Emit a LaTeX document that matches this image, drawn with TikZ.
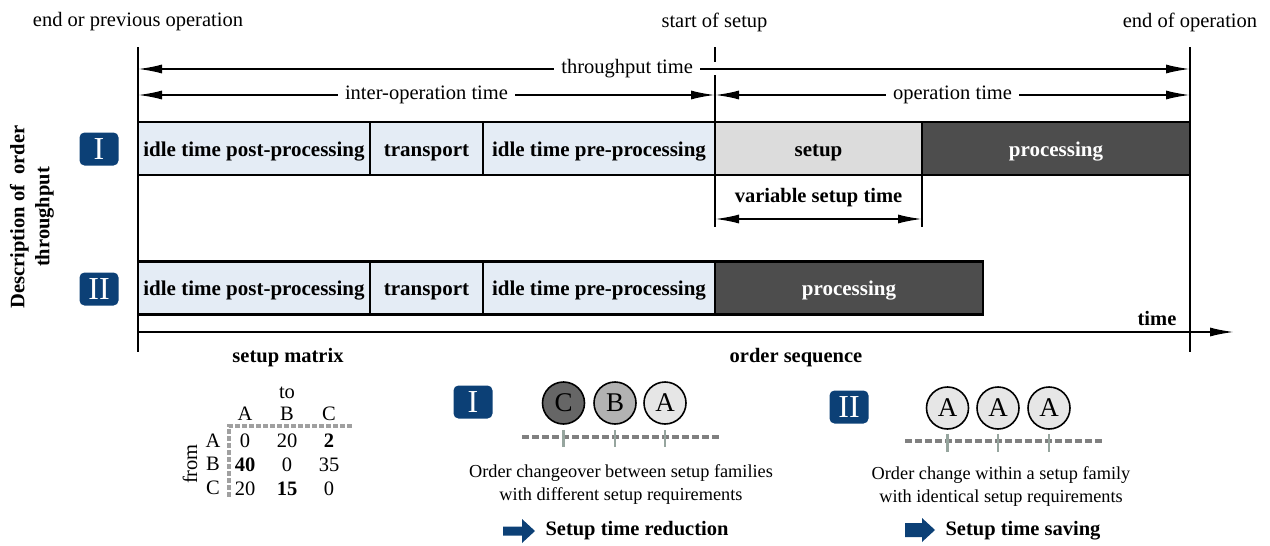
\documentclass[tikz,border=0pt]{standalone}
\usepackage{fontspec}
\setmainfont{Liberation Serif}
\usetikzlibrary{arrows.meta}
\definecolor{badgeblue}{RGB}{12,64,118}
\definecolor{idleblue}{RGB}{228,236,245}
\definecolor{setupgray}{RGB}{220,220,220}
\definecolor{procgray}{RGB}{77,77,77}
\definecolor{dotdark}{RGB}{102,102,102}
\definecolor{dotmid}{RGB}{178,178,178}
\definecolor{dotlight}{RGB}{230,230,230}
\definecolor{dashgray}{RGB}{128,128,128}
\definecolor{gridgray}{RGB}{160,160,160}
\definecolor{tickgray}{RGB}{150,165,158}
\newcommand{\mainsize}{\fontsize{20.5}{24}\selectfont}
\newcommand{\boxsize}{\fontsize{21}{24}\selectfont}
\newcommand{\smallsize}{\fontsize{18.3}{23}\selectfont}
\tikzset{
  lbl/.style={font=\mainsize, inner sep=1pt},
  blbl/.style={font=\mainsize\bfseries, inner sep=1pt},
  seg/.style={draw, line width=2.4pt, minimum height=53, inner sep=0, outer sep=0,
    anchor=west, font=\boxsize\bfseries, text height=15pt, text depth=0pt},
  idle/.style={seg, fill=idleblue},
  setupbox/.style={seg, fill=setupgray},
  procbox/.style={seg, fill=procgray, text=white},
  badge/.style={fill=badgeblue, rounded corners=5, minimum width=39,
    minimum height=33, inner sep=0, text=white, font=\fontsize{32}{32}\selectfont},
  vline/.style={line width=2.4pt},
  timespan/.style={line width=1.8pt, {Latex[length=24,width=9]}-{Latex[length=24,width=9]}},
  orderdot/.style={circle, draw, line width=1.6pt, minimum size=42, inner sep=0,
    font=\fontsize{27}{27}\selectfont},
  track/.style={dashgray, line width=3.5pt, dash pattern=on 7 off 3},
  tickline/.style={tickgray, line width=2.6pt},
  cell/.style={font=\mainsize, inner sep=0},
}
\begin{document}
\begin{tikzpicture}[x=1pt,y=-1pt]
\useasboundingbox (0,0) rectangle (1270,546);

% milestones on the time line
\node[lbl] (m0) at (138,22) {end or previous operation};
\node[lbl] (m1) at (714.5,22) {start of setup};
\node[lbl] (m2) at (1190,22) {end of operation};

\coordinate (L0) at (138,47);   \coordinate (L1) at (138,352);
\coordinate (R0) at (1190,47);  \coordinate (R1) at (1190,352);
\coordinate (S0) at (715,47);   \coordinate (Sa) at (715,62);
\coordinate (Sb) at (715,75);   \coordinate (S1) at (715,122);
\draw[vline] (L0) -- (L1);
\draw[vline] (R0) -- (R1);
\draw[vline] (S0) -- (Sa);
\draw[vline] (Sb) -- (S1);

% time spans
\coordinate (tp0) at (138,69);  \coordinate (tp1) at (1190,69);
\coordinate (io0) at (138,95);  \coordinate (io1) at (715,95);
\coordinate (op0) at (715,95);  \coordinate (op1) at (1190,95);
\draw[timespan] (tp0) -- node[pos=0.465, lbl, fill=white, inner xsep=7pt] {throughput time} (tp1);
\draw[timespan] (io0) -- node[lbl, fill=white, inner xsep=7pt] {inter-operation time} (io1);
\draw[timespan] (op0) -- node[lbl, fill=white, inner xsep=7pt] {operation time} (op1);

% case I
\node[badge] (bI) at (99,149) {I};
\node[idle, minimum width=232] (a1) at (138,148.5) {idle time post-processing};
\node[idle, minimum width=113] (a2) at (a1.east) {transport};
\node[idle, minimum width=232] (a3) at (a2.east) {idle time pre-processing};
\node[setupbox, minimum width=207] (a4) at (a3.east) {setup};
\node[procbox, minimum width=268] (a5) at (a4.east) {processing};

% variable setup time
\coordinate (v0) at (715,175);  \coordinate (v1) at (715,227);
\coordinate (w0) at (922,175);  \coordinate (w1) at (922,227);
\draw[vline] (v0) -- (v1);
\draw[vline] (w0) -- (w1);
\coordinate (va) at (715,219);  \coordinate (vb) at (922,219);
\draw[timespan] (va) -- (vb);
\node[blbl] (vlab) at (818.5,198) {variable setup time};

% case II
\node[badge] (bII) at (99,289) {II};
\node[idle, minimum width=232] (b1) at (138,288) {idle time post-processing};
\node[idle, minimum width=113] (b2) at (b1.east) {transport};
\node[idle, minimum width=232] (b3) at (b2.east) {idle time pre-processing};
\node[procbox, minimum width=268] (b5) at (b3.east) {processing};

% time axis
\coordinate (x0) at (138,332);  \coordinate (x1) at (1234,332);
\draw[line width=1.8pt, -{Latex[length=24,width=9]}] (x0) -- (x1);
\node[blbl] (tlab) at (1157,318) {time};

% vertical caption
\node[rotate=90, align=center, font=\fontsize{20.5}{25}\selectfont\bfseries, inner sep=0]
  (desc) at (32,217) {Description of\ \ order\\throughput};

% section titles
\node[blbl] (sm) at (288,358) {setup matrix};
\node[blbl] (os) at (796,358) {order sequence};

% setup matrix
\node[cell] (to) at (287,393) {to};
\node[cell] (hA) at (245,414) {A};
\node[cell] (hB) at (287,414) {B};
\node[cell] (hC) at (329,414) {C};
\node[cell] (rA) at (213,441) {A};
\node[cell] (rB) at (213,464) {B};
\node[cell] (rC) at (213,488) {C};
\node[cell, rotate=90] (from) at (190,464) {from};
\node[cell] (mAA) at (245,441) {0};
\node[cell] (mAB) at (287,441) {20};
\node[cell] (mAC) at (329,441) {\bfseries 2};
\node[cell] (mBA) at (245,465) {\bfseries 40};
\node[cell] (mBB) at (287,465) {0};
\node[cell] (mBC) at (329,465) {35};
\node[cell] (mCA) at (245,489) {20};
\node[cell] (mCB) at (287,489) {\bfseries 15};
\node[cell] (mCC) at (329,489) {0};
\coordinate (g0) at (352,426); \coordinate (g1) at (229,426); \coordinate (g2) at (229,498);
\draw[gridgray, line width=3.2pt, dash pattern=on 5 off 2] (g0) -- (g1) -- (g2);

% order sequence I
\node[badge] (sI) at (473,402) {I};
\node[orderdot, fill=dotdark] (cC) at (563.5,403) {C};
\node[orderdot, fill=dotmid] (cB) at (615,403) {B};
\node[orderdot, fill=dotlight] (cA) at (665,403) {A};
\coordinate (q0) at (522,437); \coordinate (q1) at (719,437);
\draw[track] (q0) -- (q1);
\foreach \c in {cC,cB,cA} \draw[tickline] (\c.south) ++(0,5) -- ++(0,17);
\node[align=center, font=\smallsize, inner sep=0] (tI) at (621,485)
  {Order changeover between setup families\\with different setup requirements};
\fill[badgeblue] (503,526.5) -- (522,526.5) -- (522,519) -- (535,531) -- (522,543)
  -- (522,535.5) -- (503,535.5) -- cycle;
\node[blbl] (rI) at (637,531) {Setup time reduction};

% order sequence II
\node[badge] (sII) at (849,407) {II};
\node[orderdot, fill=dotlight] (dA1) at (947.5,408) {A};
\node[orderdot, fill=dotlight] (dA2) at (998,408) {A};
\node[orderdot, fill=dotlight] (dA3) at (1049,408) {A};
\coordinate (r0) at (905,441); \coordinate (r1) at (1103,441);
\draw[track] (r0) -- (r1);
\foreach \c in {dA1,dA2,dA3} \draw[tickline] (\c.south) ++(0,4) -- ++(0,18);
\node[align=center, font=\smallsize, inner sep=0] (tII) at (1001,487)
  {Order change within a setup family\\with identical setup requirements};
\fill[badgeblue] (905,523) -- (922,523) -- (922,518) -- (935,530) -- (922,542)
  -- (922,537) -- (905,537) -- cycle;
\node[blbl] (rII) at (1023,531) {Setup time saving};
\end{tikzpicture}
\end{document}
